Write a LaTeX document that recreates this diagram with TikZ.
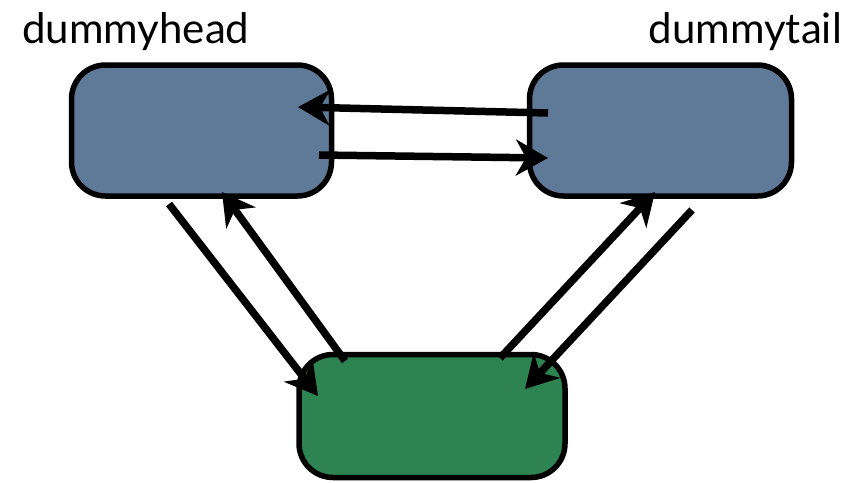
\documentclass[tikz,border=0pt]{standalone}
\usepackage{fontspec}
\setmainfont{Lato}
\usetikzlibrary{arrows.meta}
\definecolor{slateblue}{RGB}{95,122,153}
\definecolor{leafgreen}{RGB}{46,132,80}
\tikzset{
  listnode/.style={draw=black, line width=5.5pt, rounded corners=34pt,
    minimum width=#1, minimum height=131pt, inner sep=0pt},
  link/.style={line width=7.5pt, -{Stealth[length=32pt, width=36pt, inset=10pt]}},
  tag/.style={inner sep=0pt, font=\fontsize{42}{48}\selectfont}
}
\begin{document}
\begin{tikzpicture}[x=1pt, y=-1pt]
  \useasboundingbox (0,0) rectangle (861,482);
  % the three list nodes
  \node[listnode=260pt, fill=slateblue] (head) at (201.5,130.5) {};
  \node[listnode=262pt, fill=slateblue] (tail) at (660.5,130.5) {};
  \node[listnode=266pt, minimum height=123pt, fill=leafgreen] (mid) at (432,416) {};
  % labels above the sentinels
  \node[tag, anchor=base west] (headlbl) at (22,43) {dummyhead};
  \node[tag, anchor=base east] (taillbl) at (842,43) {dummytail};
  % link end points
  \coordinate (t1) at (548,113);  \coordinate (h1) at (298,107);
  \coordinate (h2) at (319,155);  \coordinate (t2) at (548,158);
  \coordinate (h3) at (169,204);  \coordinate (m3) at (318,396);
  \coordinate (m4) at (345,361);  \coordinate (h4) at (222,192);
  \coordinate (m5) at (500,358);  \coordinate (t5) at (655,192);
  \coordinate (t6) at (692,210);  \coordinate (m6) at (525,389);
  % prev / next pointers
  \draw[link] (t1) -- (h1);
  \draw[link] (h2) -- (t2);
  \draw[link] (h3) -- (m3);
  \draw[link] (m4) -- (h4);
  \draw[link] (m5) -- (t5);
  \draw[link] (t6) -- (m6);
\end{tikzpicture}
\end{document}
